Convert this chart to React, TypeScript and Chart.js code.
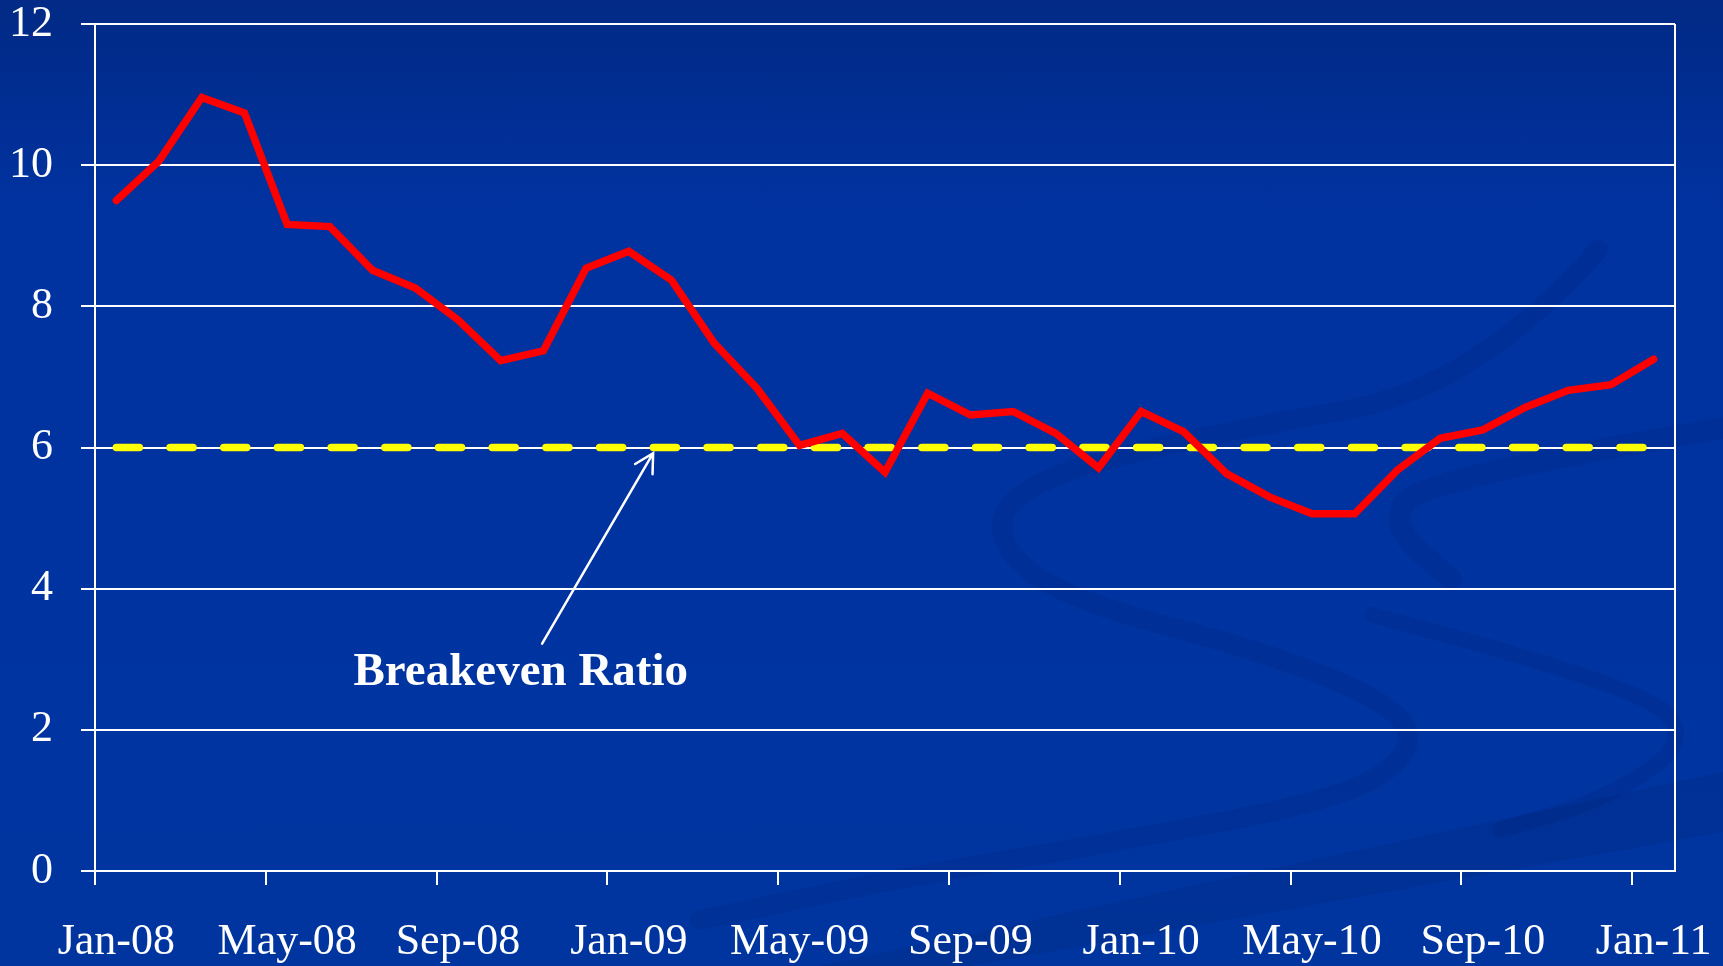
import React, { useEffect, useRef } from 'react';
import { Chart, registerables } from 'chart.js';

Chart.register(...registerables);

const months = [
  'Jan-08', 'Feb-08', 'Mar-08', 'Apr-08', 'May-08', 'Jun-08', 'Jul-08', 'Aug-08', 'Sep-08', 'Oct-08', 'Nov-08', 'Dec-08',
  'Jan-09', 'Feb-09', 'Mar-09', 'Apr-09', 'May-09', 'Jun-09', 'Jul-09', 'Aug-09', 'Sep-09', 'Oct-09', 'Nov-09', 'Dec-09',
  'Jan-10', 'Feb-10', 'Mar-10', 'Apr-10', 'May-10', 'Jun-10', 'Jul-10', 'Aug-10', 'Sep-10', 'Oct-10', 'Nov-10', 'Dec-10',
  'Jan-11',
];

const ratioValues = [
  9.50, 10.06, 10.96, 10.74, 9.16, 9.13, 8.51, 8.26, 7.81, 7.23, 7.37, 8.54,
  8.78, 8.37, 7.48, 6.84, 6.03, 6.20, 5.65, 6.77, 6.46, 6.51, 6.20, 5.71,
  6.51, 6.22, 5.63, 5.30, 5.06, 5.06, 5.68, 6.13, 6.25, 6.57, 6.81, 6.89,
  7.25,
];

const breakevenLevel = 6;
const breakevenValues = months.map(() => breakevenLevel);

const yTickValues = [0, 2, 4, 6, 8, 10, 12];
const xLabelEvery = 4;

const annotationText = 'Breakeven Ratio';
// annotation anchor points in (category index, value) units
const annotationTextAt = { x: 9.47, y: 2.63 };
const arrowTail = { x: 9.97, y: 3.22 };
const arrowTip = { x: 12.57, y: 5.92 };

const FONT = '"Liberation Serif", "Times New Roman", serif';

// faint decorative swirls of the slide background (page pixels)
const swirlLeft = [
  [1598, 250], [1477, 387], [1215, 433], [1031, 478], [989, 533], [1057, 597], [1267, 652],
  [1399, 707], [1414, 752], [1346, 798], [1110, 843], [900, 878], [700, 920],
];
const swirlRightTop = [[1723, 428], [1425, 478], [1388, 524], [1451, 579]];
const swirlRightLow = [[1372, 615], [1635, 684], [1693, 739], [1609, 798], [1500, 830]];
const bandPoly = [[820, 966], [1723, 772], [1723, 832], [970, 966]];

function smoothPath(ctx: CanvasRenderingContext2D, pts: number[][]) {
  ctx.beginPath();
  ctx.moveTo(pts[0][0], pts[0][1]);
  for (let i = 1; i < pts.length - 1; i++) {
    const mx = (pts[i][0] + pts[i + 1][0]) / 2;
    const my = (pts[i][1] + pts[i + 1][1]) / 2;
    ctx.quadraticCurveTo(pts[i][0], pts[i][1], mx, my);
  }
  const last = pts[pts.length - 1];
  ctx.lineTo(last[0], last[1]);
}

const backgroundPlugin = {
  id: 'bgSwirls',
  beforeDraw(chart: any) {
    const { ctx } = chart;
    ctx.save();
    ctx.fillStyle = 'rgba(0, 22, 80, 0.13)';
    ctx.beginPath();
    bandPoly.forEach((p, i) => (i === 0 ? ctx.moveTo(p[0], p[1]) : ctx.lineTo(p[0], p[1])));
    ctx.closePath();
    ctx.fill();
    ctx.strokeStyle = 'rgba(0, 22, 80, 0.1)';
    ctx.lineCap = 'round';
    ctx.lineJoin = 'round';
    ctx.lineWidth = 20;
    smoothPath(ctx, swirlLeft);
    ctx.stroke();
    ctx.lineWidth = 22;
    smoothPath(ctx, swirlRightTop);
    ctx.stroke();
    ctx.lineWidth = 16;
    smoothPath(ctx, swirlRightLow);
    ctx.stroke();
    ctx.restore();
  },
};

const decorPlugin = {
  id: 'decor',
  afterDatasetsDraw(chart: any) {
    const { ctx, chartArea, scales } = chart;
    const xs = scales.x;
    const ys = scales.y;
    ctx.save();
    // right border of plot area
    ctx.strokeStyle = '#ffffff';
    ctx.lineWidth = 2;
    ctx.beginPath();
    ctx.moveTo(chartArea.right, chartArea.top);
    ctx.lineTo(chartArea.right, chartArea.bottom);
    ctx.stroke();

    // arrow
    const tx = xs.getPixelForValue(arrowTail.x);
    const ty = ys.getPixelForValue(arrowTail.y);
    const hx = xs.getPixelForValue(arrowTip.x);
    const hy = ys.getPixelForValue(arrowTip.y);
    ctx.lineWidth = 2.5;
    ctx.lineCap = 'round';
    ctx.beginPath();
    ctx.moveTo(tx, ty);
    ctx.lineTo(hx, hy);
    const ang = Math.atan2(hy - ty, hx - tx);
    const L = 21;
    const spread = 0.5;
    ctx.moveTo(hx - L * Math.cos(ang - spread), hy - L * Math.sin(ang - spread));
    ctx.lineTo(hx, hy);
    ctx.lineTo(hx - L * Math.cos(ang + spread), hy - L * Math.sin(ang + spread));
    ctx.stroke();

    // text
    ctx.fillStyle = '#ffffff';
    ctx.font = `bold 47px ${FONT}`;
    ctx.textAlign = 'center';
    ctx.textBaseline = 'alphabetic';
    ctx.fillText(annotationText, xs.getPixelForValue(annotationTextAt.x), ys.getPixelForValue(annotationTextAt.y));
    ctx.restore();
  },
};

export default function App() {
  const canvasRef = useRef<HTMLCanvasElement | null>(null);

  useEffect(() => {
    const canvas = canvasRef.current;
    if (!canvas) return;
    const chart = new Chart(canvas, {
      type: 'line',
      data: {
        labels: months,
        datasets: [
          {
            label: 'Ratio',
            data: ratioValues,
            borderColor: '#ff0000',
            borderWidth: 7.5,
            borderJoinStyle: 'miter',
            borderCapStyle: 'round',
            tension: 0,
            pointRadius: 0,
            fill: false,
            order: 0,
          },
          {
            label: 'Breakeven',
            data: breakevenValues,
            borderColor: '#ffff00',
            borderWidth: 7.5,
            borderCapStyle: 'round',
            borderDash: [23, 30.7],
            tension: 0,
            pointRadius: 0,
            fill: false,
            order: 1,
          },
        ],
      },
      options: {
        responsive: true,
        maintainAspectRatio: false,
        animation: false,
        layout: { padding: { top: 24, right: 48, left: 0, bottom: 0 } },
        plugins: {
          legend: { display: false },
          tooltip: { enabled: false },
        },
        scales: {
          x: {
            type: 'category',
            offset: true,
            grid: {
              offset: true,
              drawOnChartArea: false,
              drawTicks: true,
              tickLength: 14,
              lineWidth: 2,
              color: (c: any) => (typeof c.index === 'number' && c.index % xLabelEvery === 0 ? '#ffffff' : 'rgba(0,0,0,0)'),
            },
            border: { display: true, color: '#ffffff', width: 2 },
            ticks: {
              autoSkip: false,
              maxRotation: 0,
              minRotation: 0,
              color: '#ffffff',
              padding: 31,
              font: { family: FONT, size: 44 },
              callback: (_v: any, i: number) => (i % xLabelEvery === 0 ? months[i] : ''),
            },
            afterFit: (s: any) => {
              s.height = 95;
              s.paddingLeft = 0;
              s.paddingRight = 0;
            },
          },
          y: {
            min: 0,
            max: 12,
            afterBuildTicks: (s: any) => {
              s.ticks = yTickValues.map((v) => ({ value: v }));
            },
            grid: {
              color: '#ffffff',
              lineWidth: 2,
              drawTicks: true,
              tickLength: 14,
            },
            border: { display: true, color: '#ffffff', width: 2 },
            ticks: {
              color: '#ffffff',
              padding: 28,
              font: { family: FONT, size: 44 },
            },
            afterFit: (s: any) => {
              s.width = 95;
              s.paddingTop = 0;
              s.paddingBottom = 0;
            },
          },
        },
      },
      plugins: [backgroundPlugin, decorPlugin],
    } as any);
    return () => chart.destroy();
  }, []);

  return (
    <div
      style={{
        position: 'fixed',
        left: 0,
        top: 0,
        width: 1723,
        height: 966,
        background: 'linear-gradient(180deg, #022a86 0%, #0032a0 22%, #0035a0 100%)',
      }}
    >
      <canvas ref={canvasRef} />
    </div>
  );
}
